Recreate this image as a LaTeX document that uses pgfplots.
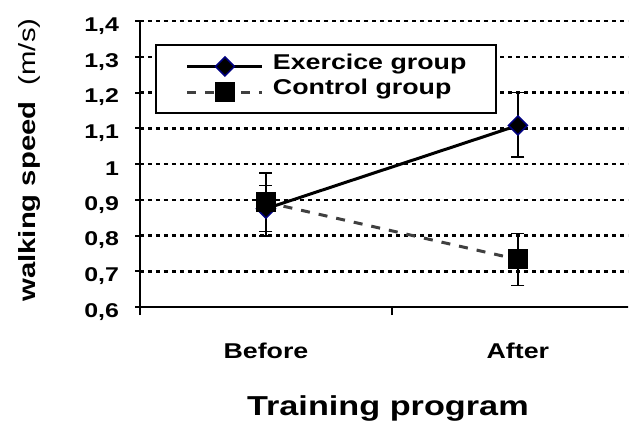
\documentclass[border=0pt]{standalone}
\usepackage{pgfplots}
\pgfplotsset{compat=1.18}
\usepackage{fontspec}
\setmainfont{Liberation Sans}[FakeStretch=1.25]
\definecolor{navymark}{RGB}{0,0,128}
\definecolor{ctrlgray}{RGB}{64,64,64}
\begin{document}
\begin{tikzpicture}
\useasboundingbox (-140bp,-116bp) rectangle (490bp,307bp);
\begin{axis}[
  at={(0,0)}, anchor=south west,
  scale only axis, width=488bp, height=286bp,
  xmin=0, xmax=1.937, ymin=0.6, ymax=1.4,
  axis x line=bottom, axis y line=left,
  axis line style={line width=2.5bp, -, black},
  ytick={0.6,0.7,0.8,0.9,1.0,1.1,1.2,1.3,1.4},
  /pgf/number format/assume math mode=true,
  /pgf/number format/use comma,
  /pgf/number format/fixed,
  /pgf/number format/precision=1,
  yticklabel style={font=\bfseries\fontsize{20}{24}\selectfont, anchor=east, yshift=-5bp, xshift=-13bp},
  xtick={0.5,1.5}, xticklabels={Before,After},
  xticklabel style={font=\bfseries\fontsize{21.5}{26}\selectfont, anchor=base, yshift=-47bp},
  major x tick style={draw=none},
  minor xtick={0,1},
  minor tick length=8bp,
  minor x tick style={line width=2.5bp, black, yshift=-4bp},
  tick align=center,
  major tick length=9bp,
  ytick style={line width=2bp, black},
  ymajorgrids,
  major grid style={black, line width=2.5bp, dash pattern=on 4bp off 4bp},
  xlabel={Training program},
  xlabel style={at={(axis description cs:0.508,-0.378)}, anchor=base, font=\bfseries\fontsize{27.5}{32}\selectfont},
  ylabel={{\bfseries walking speed}\ \ (m/s)},
  ylabel style={at={(axis description cs:-0.215,0.514)}, anchor=base, rotate=0, font=\fontsize{23.5}{28}\selectfont},
  legend cell align=left,
  legend style={at={(axis description cs:0.0307,0.9196)}, anchor=north west,
    draw=black, line width=2bp, fill=white,
    font=\bfseries\fontsize{21.5}{26}\selectfont,
    inner xsep=30bp, inner ysep=12bp, row sep=8bp, column sep=9bp,
    nodes={inner sep=0bp, text depth=0.21em, text height=0.72em}},
  legend image code/.code={\draw[mark repeat=2,mark phase=2,#1] plot coordinates {(0bp,0bp) (37.5bp,0bp) (75bp,0bp)};},
]
\addplot[black, line width=3bp,
  mark=square*, mark size=6.7bp,
  mark options={rotate=45, fill=black, draw=navymark, line width=1.5bp, solid},
  error bars/.cd, y dir=both, y explicit,
  error bar style={line width=1.5bp, black, solid},
  error mark options={rotate=90, mark size=6.5bp, line width=1.5bp, black, solid}]
  coordinates {(0.5,0.875) += (0,0.065) -= (0,0.077) (1.5,1.108) += (0,0.092) -= (0,0.088)};
\addlegendentry{Exercice group}
\addplot[ctrlgray, line width=3bp, dash pattern=on 9bp off 9bp,
  mark=square*, mark size=8.5bp,
  mark options={fill=black, draw=black, solid},
  error bars/.cd, y dir=both, y explicit,
  error bar style={line width=1.5bp, black, solid},
  error mark options={rotate=90, mark size=6.5bp, line width=1.5bp, black, solid}]
  coordinates {(0.5,0.893) +- (0,0.082) (1.5,0.733) +- (0,0.073)};
\addlegendentry{Control group}
\end{axis}
\end{tikzpicture}
\end{document}
